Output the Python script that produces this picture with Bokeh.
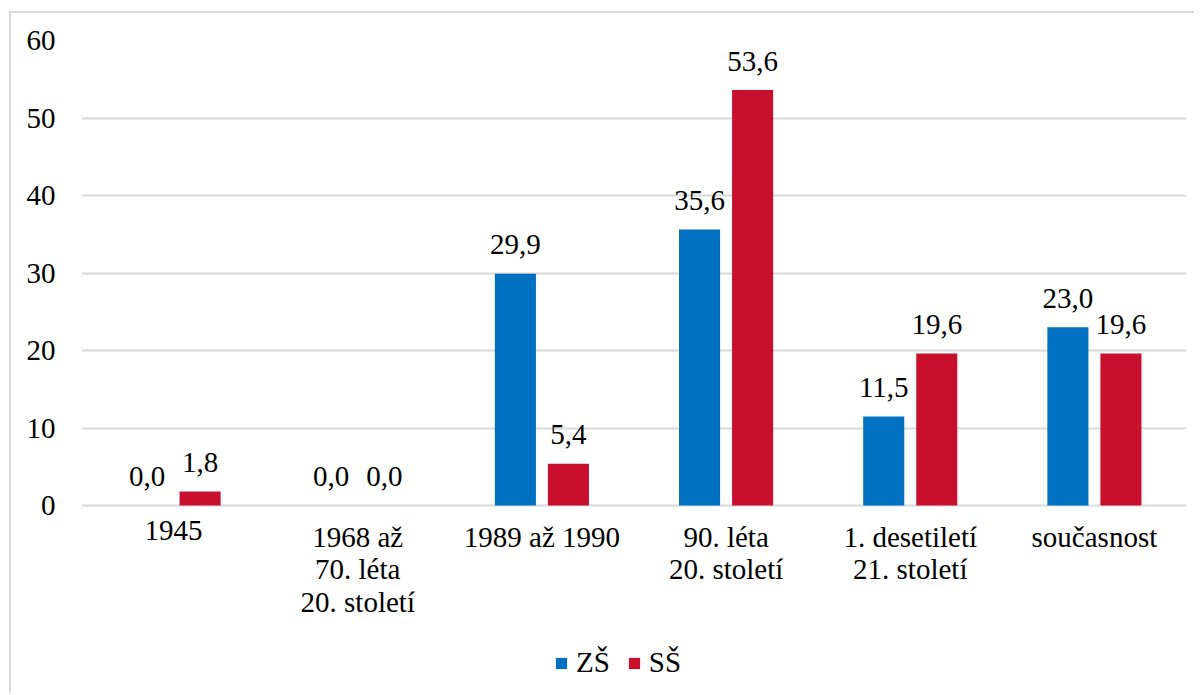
from bokeh.plotting import figure
from bokeh.models import ColumnDataSource, Range1d, FixedTicker, Legend, LegendItem
from bokeh.transform import dodge
from bokeh.embed import file_html
from bokeh.resources import INLINE

categories = ["1945", "1968 až\n70. léta\n20. století", "1989 až 1990",
              "90. léta\n20. století", "1. desetiletí\n21. století", "současnost"]
zs_values = [0.0, 0.0, 29.9, 35.6, 11.5, 23.0]
ss_values = [1.8, 0.0, 5.4, 53.6, 19.6, 19.6]
series_names = ["ZŠ", "SŠ"]
y_ticks = [0, 10, 20, 30, 40, 50, 60]

BLUE = "#0070C0"
RED = "#C8102E"
FONT = "Liberation Serif"
FS = "29px"

# frame geometry: 0..60 occupies 465 px, extra room below for category labels and legend
PLOT_H = 465
EXTRA_H = 188
Y_MAX = 60
Y_MIN = -EXTRA_H / PLOT_H * Y_MAX

xpos = [i + 0.5 for i in range(len(categories))]
src = ColumnDataSource(dict(
    x=xpos,
    zero=[0] * len(categories),
    cat=categories,
    zs=zs_values,
    ss=ss_values,
    zs_lbl=[f"{v:.1f}".replace(".", ",") for v in zs_values],
    ss_lbl=[f"{v:.1f}".replace(".", ",") for v in ss_values],
))

p = figure(frame_width=1105, frame_height=PLOT_H + EXTRA_H, output_backend="svg",
           toolbar_location=None, x_axis_location=None,
           x_range=Range1d(0, len(categories)), y_range=Range1d(Y_MIN, Y_MAX),
           min_border_left=70, min_border_right=8, min_border_top=27,
           min_border_bottom=0)
p.styles = {"margin-left": "9px", "margin-top": "11px",
            "border-left": "2px solid #d9d9d9", "border-top": "2px solid #d9d9d9"}
p.outline_line_color = None
p.background_fill_color = "white"
p.border_fill_color = "white"

OFF = 0.144
W = 0.223
r1 = p.vbar(x=dodge("x", -OFF), top="zs", width=W, source=src,
            fill_color=BLUE, line_color=None)
r2 = p.vbar(x=dodge("x", OFF), top="ss", width=W, source=src,
            fill_color=RED, line_color=None)

for col, off in (("zs", -OFF), ("ss", OFF)):
    p.text(x=dodge("x", off), y=col, text=col + "_lbl", source=src,
           text_font=FONT, text_font_size=FS, text_color="#000000",
           text_align="center", text_baseline="alphabetic", y_offset=-29)

# category labels under the bars
p.text(x="x", y="zero", text="cat", source=src,
       text_font=FONT, text_font_size=FS, text_color="#000000",
       text_align="center", text_baseline="top", y_offset=15,
       text_line_height=1.03)

# y axis
p.yaxis.ticker = FixedTicker(ticks=y_ticks)
ax = p.yaxis[0]
ax.axis_line_color = None
ax.major_tick_line_color = None
ax.minor_tick_line_color = None
ax.major_tick_out = 0
ax.major_tick_in = 0
ax.major_label_text_font = FONT
ax.major_label_text_font_size = FS
ax.major_label_text_color = "#000000"
ax.major_label_standoff = 26

p.xgrid.grid_line_color = None
p.xgrid.visible = False
p.ygrid.grid_line_color = "#d9d9d9"
p.ygrid.grid_line_width = 2
p.ygrid.ticker = FixedTicker(ticks=y_ticks)

legend = Legend(items=[LegendItem(label=series_names[0], renderers=[r1]),
                       LegendItem(label=series_names[1], renderers=[r2])],
                orientation="horizontal", location=(473, 14),
                glyph_width=14, glyph_height=14, label_standoff=8, spacing=17,
                padding=0, margin=0, border_line_color=None,
                background_fill_alpha=0,
                label_text_font=FONT, label_text_font_size=FS,
                label_text_color="#000000")
p.add_layout(legend, "center")

open("out.html", "w").write(file_html(p, INLINE))
